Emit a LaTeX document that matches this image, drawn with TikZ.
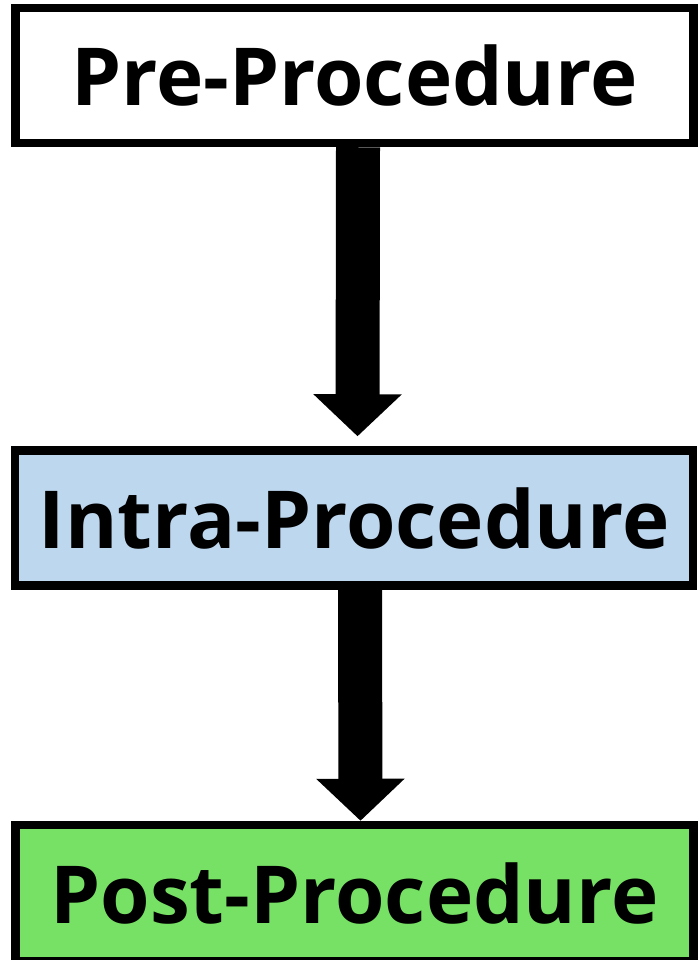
\documentclass[tikz,border=0pt]{standalone}
\usepackage{fontspec}
\setmainfont{Open Sans}
\usepackage{xcolor}
\usetikzlibrary{arrows.meta}
\usetikzlibrary{positioning}

\definecolor{intrablue}{RGB}{189,215,238}
\definecolor{postgreen}{RGB}{119,225,101}

\tikzset{
  stage/.style={draw, rectangle, line width=8.5pt, minimum width=678pt,
    minimum height=135pt, font=\fontsize{80}{96}\selectfont\bfseries},
  fatarrow/.style={line width=44pt, -{Triangle[length=42pt,width=86pt]}}
}

\begin{document}
\begin{tikzpicture}[x=1pt,y=-1pt]
\useasboundingbox (0,0) rectangle (699,960);

% Stages (nodes)
\node[stage, fill=white] (pre) at (354.5,75.5) {Pre-Procedure};
\node[stage, fill=intrablue] (intra) at (354,518) {Intra-Procedure};
\node[stage, fill=postgreen, minimum height=136pt] (post) at (354.5,893) {Post-Procedure};

% Arrows between stages
\draw[fatarrow, shorten >=10pt] ([xshift=3.5pt]pre.south) -- ([xshift=3.5pt]intra.north);
\draw[fatarrow] ([xshift=6pt]intra.south) -- ([xshift=6pt]post.north);
\end{tikzpicture}
\end{document}
